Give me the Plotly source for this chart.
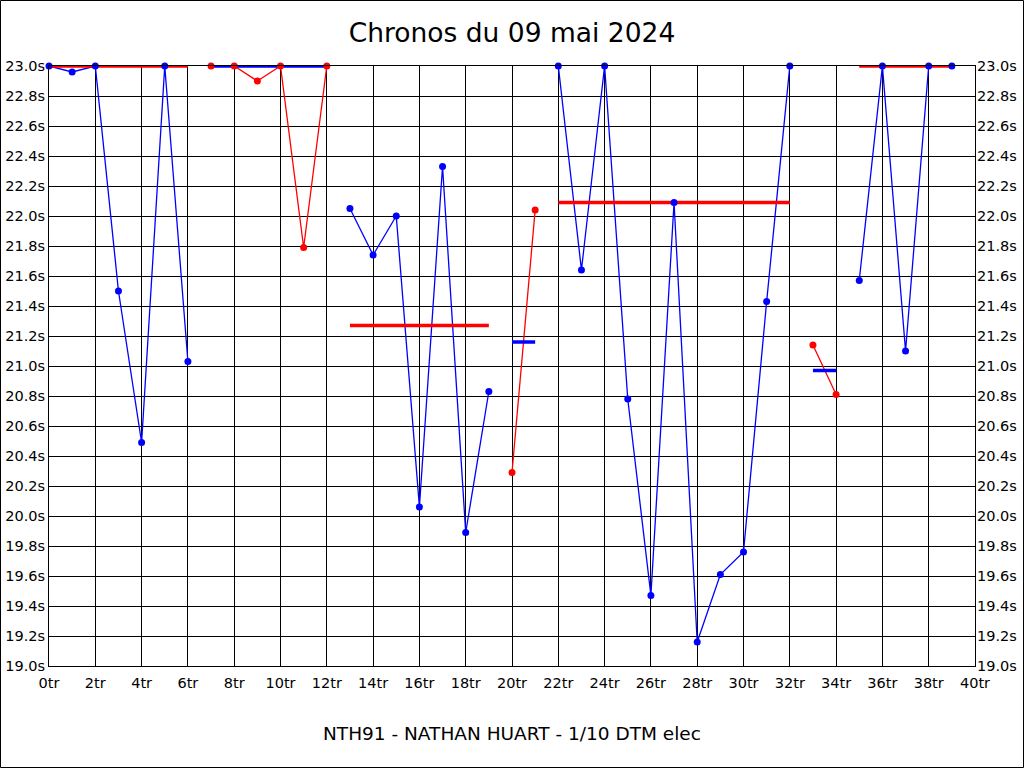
import plotly.graph_objects as go

# Data: laps grouped in runs (segments), alternating colours
seg_start = [0, 7, 13, 20, 22, 33, 35]
seg_laps = [
    [23.0, 22.96, 23.0, 21.5, 20.49, 23.0, 21.03],
    [23.0, 23.0, 22.9, 23.0, 21.79, 23.0],
    [22.05, 21.74, 22.0, 20.06, 22.33, 19.89, 20.83],
    [20.29, 22.04],
    [23.0, 21.64, 23.0, 20.78, 19.47, 22.09, 19.16, 19.61, 19.76, 21.43, 23.0],
    [21.14, 20.81],
    [21.57, 23.0, 21.1, 23.0, 23.0],
]
seg_color = ["#0000FF", "#FF0000", "#0000FF", "#FF0000", "#0000FF", "#FF0000", "#0000FF"]
avg_color = ["#FF0000", "#0000FF", "#FF0000", "#0000FF", "#FF0000", "#0000FF", "#FF0000"]
seg_avg = [23.0, 23.0, 21.27, 21.16, 22.09, 20.97, 23.0]

x_ticks = list(range(0, 41, 2))
y_ticks = [19.0 + 0.2 * i for i in range(21)]

FONT = "DejaVu Sans, Liberation Sans, Arial, sans-serif"
TICK = 14.5

fig = go.Figure()

# lap lines
for s, laps, c in zip(seg_start, seg_laps, seg_color):
    xs = list(range(s, s + len(laps)))
    fig.add_trace(go.Scatter(x=xs, y=laps, mode="lines",
                             line=dict(color=c, width=1.3),
                             hoverinfo="skip", showlegend=False, cliponaxis=False))
# average lines
for s, laps, a, c in zip(seg_start, seg_laps, seg_avg, avg_color):
    xs = [s, s + len(laps) - 1]
    fig.add_trace(go.Scatter(x=xs, y=[a, a], mode="lines",
                             line=dict(color=c, width=3.5),
                             hoverinfo="skip", showlegend=False, cliponaxis=False))
# markers
for s, laps, c in zip(seg_start, seg_laps, seg_color):
    xs = list(range(s, s + len(laps)))
    fig.add_trace(go.Scatter(x=xs, y=laps, mode="markers",
                             marker=dict(color=c, size=7),
                             showlegend=False, cliponaxis=False))
# dummy on right axis
fig.add_trace(go.Scatter(x=[0], y=[19.0], yaxis="y2", mode="markers",
                         marker=dict(opacity=0), showlegend=False, hoverinfo="skip"))

fig.update_layout(
    width=1024, height=768,
    margin=dict(l=49, r=49, t=66, b=102, autoexpand=False),
    paper_bgcolor="white", plot_bgcolor="white",
    font=dict(family=FONT, color="black", size=13),
    title=dict(text="Chronos du 09 mai 2024", x=0.5, xanchor="center",
               y=1 - 33 / 768, yanchor="middle", yref="container",
               font=dict(size=26.5, family=FONT, color="black")),
    xaxis=dict(range=[0, 40], tickvals=x_ticks, ticktext=[f"{v}tr" for v in x_ticks],
               showgrid=True, gridcolor="black", gridwidth=1,
               showline=True, linecolor="black", linewidth=1, mirror=True,
               zeroline=False, ticks="", tickfont=dict(size=TICK), ticklabelstandoff=4),
    yaxis=dict(range=[19, 23], tickvals=y_ticks, ticktext=[f"{v:.1f}s" for v in y_ticks],
               showgrid=True, gridcolor="black", gridwidth=1,
               showline=True, linecolor="black", linewidth=1, mirror=True,
               zeroline=False, ticks="", tickfont=dict(size=TICK)),
    yaxis2=dict(range=[19, 23], tickvals=y_ticks, ticktext=[f"{v:.1f}s" for v in y_ticks],
                overlaying="y", side="right", showgrid=False, zeroline=False,
                ticks="", tickfont=dict(size=TICK), ticklabelstandoff=1),
    annotations=[dict(text="NTH91 - NATHAN HUART - 1/10 DTM elec", xref="paper", yref="paper",
                      x=0.5, y=-(733 - 666) / 600, xanchor="center", yanchor="middle",
                      showarrow=False, font=dict(size=18.5, family=FONT, color="black"))],
    shapes=[dict(type="rect", xref="paper", yref="paper",
                 x0=-48.5 / 926, x1=1 + 48.5 / 926, y0=-101.5 / 600, y1=1 + 65.5 / 600,
                 line=dict(color="black", width=1), layer="above")],
)

fig.write_html("out.html", config={"displayModeBar": False},
               post_script="document.body.style.margin='0';document.body.style.overflow='hidden';")
